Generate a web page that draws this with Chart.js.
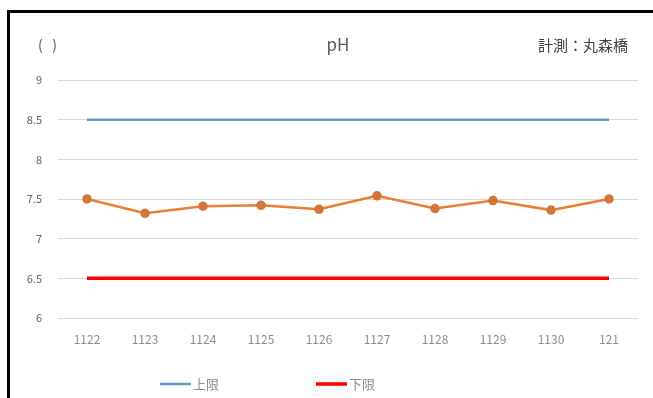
<!DOCTYPE html>
<html>
<head>
<meta charset="utf-8">
<script src="https://cdn.jsdelivr.net/npm/chart.js@4"></script>
<style>
  body { margin: 0; background: #fff; }
  #wrap { position: relative; width: 653px; height: 398px; }
  #frame {
    position: absolute; left: 7px; top: 10px; right: 0; bottom: 0;
    border-left: 3px solid #000; border-top: 3px solid #000;
    pointer-events: none;
  }
</style>
</head>
<body>
<div id="wrap">
  <canvas id="phChart" width="653" height="398"></canvas>
  <div id="frame"></div>
</div>
<script>
// measurement days
const days = ["1122", "1123", "1124", "1125", "1126", "1127", "1128", "1129", "1130", "121"];

// measured pH at 丸森橋
const phValues = [7.50, 7.32, 7.41, 7.42, 7.37, 7.54, 7.38, 7.48, 7.36, 7.50];

// limit lines
const upperLimit = [8.5, 8.5, 8.5, 8.5, 8.5, 8.5, 8.5, 8.5, 8.5, 8.5];
const lowerLimit = [6.5, 6.5, 6.5, 6.5, 6.5, 6.5, 6.5, 6.5, 6.5, 6.5];

const yTicks = [6, 6.5, 7, 7.5, 8, 8.5, 9];

const jpFont = "'Noto Sans CJK JP', 'Noto Sans', sans-serif";

// header texts and the two-entry legend
const headerAndLegend = {
  id: "headerAndLegend",
  afterDraw(chart) {
    const ctx = chart.ctx;
    ctx.save();
    ctx.textBaseline = "middle";

    ctx.fillStyle = "#595959";
    ctx.font = "14px " + jpFont;
    ctx.textAlign = "left";
    ctx.fillText("(   )", 38, 45);

    ctx.font = "17px " + jpFont;
    ctx.textAlign = "center";
    ctx.fillText("pH", 338, 45);

    ctx.font = "15px " + jpFont;
    ctx.textAlign = "right";
    ctx.fillStyle = "#404040";
    ctx.fillText("計測：丸森橋", 628, 45);

    // legend: only the limit lines
    const items = [chart.data.datasets[1], chart.data.datasets[2]];
    const starts = [160, 316];
    ctx.font = "13px " + jpFont;
    ctx.textAlign = "left";
    items.forEach((ds, i) => {
      const x = starts[i];
      ctx.strokeStyle = ds.borderColor;
      ctx.lineWidth = ds.borderWidth;
      ctx.beginPath();
      ctx.moveTo(x, 384);
      ctx.lineTo(x + 31, 384);
      ctx.stroke();
      ctx.fillStyle = "#8c8c8c";
      ctx.fillText(ds.label, x + 33, 384);
    });
    ctx.restore();
  }
};

const ctx = document.getElementById("phChart").getContext("2d");
new Chart(ctx, {
  type: "line",
  data: {
    labels: days,
    datasets: [
      {
        label: "pH",
        data: phValues,
        borderColor: "#ED7D31",
        borderWidth: 2.5,
        pointRadius: 3.5,
        pointBackgroundColor: "#D2773A",
        pointBorderColor: "#D2773A",
        tension: 0,
        order: 0
      },
      {
        label: "上限",
        data: upperLimit,
        borderColor: "#5B9BD5",
        borderWidth: 2.5,
        pointRadius: 0,
        order: 1
      },
      {
        label: "下限",
        data: lowerLimit,
        borderColor: "#FF0000",
        borderWidth: 3.5,
        pointRadius: 0,
        order: 1
      }
    ]
  },
  plugins: [headerAndLegend],
  options: {
    responsive: false,
    animation: false,
    layout: { padding: { top: 80, right: 15, bottom: 0, left: 0 } },
    plugins: {
      legend: { display: false },
      title: { display: false },
      tooltip: { enabled: false }
    },
    scales: {
      x: {
        offset: true,
        grid: { display: false, drawTicks: false },
        border: { display: false },
        ticks: { color: "#8c8c8c", font: { size: 12, family: jpFont }, padding: 14, maxRotation: 0 },
        afterFit(scale) { scale.height = 80; }
      },
      y: {
        min: 6,
        max: 9,
        afterBuildTicks(scale) { scale.ticks = yTicks.map(v => ({ value: v })); },
        grid: { color: "#d9d9d9", lineWidth: 1, drawTicks: false },
        border: { display: false },
        ticks: {
          color: "#666666",
          font: { size: 11, family: jpFont },
          padding: 16,
          callback: v => String(v)
        },
        afterFit(scale) { scale.width = 58; }
      }
    }
  }
});
</script>
</body>
</html>
